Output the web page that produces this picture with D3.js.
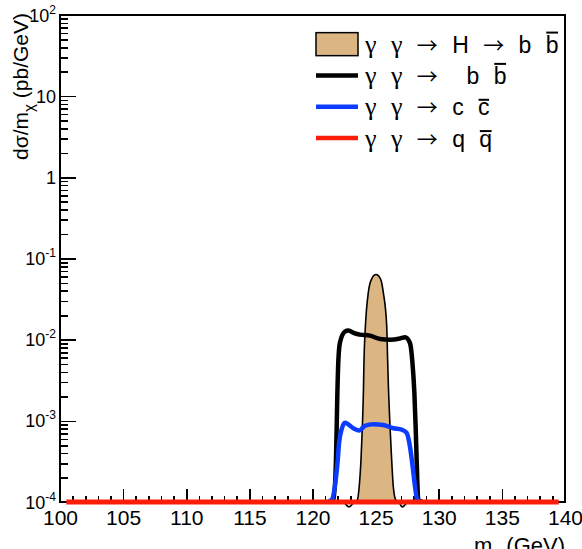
<!DOCTYPE html>
<head>
	<meta charset="utf-8">
	<style>
		body { margin: 0; background: #fff; }
		svg { font-family: "Liberation Sans", Arial, sans-serif; }
		.axis path { display: none; }
		.axis line { stroke: #000; stroke-width: 1.6px; shape-rendering: crispEdges; }
		.frame { fill: none; stroke: #000; stroke-width: 2px; shape-rendering: crispEdges; }
	</style>
	<title>gamma gamma -> H -> b bbar</title>
	<script src="https://d3js.org/d3.v7.min.js"></script>
</head>

<body>
	<div id="chart"></div>
	<script>
		// ---- data ----
		var higgsX = [122.5, 122.9, 123.3, 123.55, 123.7, 123.84, 123.95, 124.03, 124.08, 124.19, 124.42, 124.66, 125.03,
			125.41, 125.61, 125.88, 125.95, 126.03, 126.14, 126.27, 126.4, 126.6, 126.85, 127.1, 127.5];
		var higgsY = [1.0e-4, 0.87e-4, 1.0e-4, 1.06e-4, 1.55e-4, 3.3e-4, 8.5e-4, 2.2e-3, 5.66e-3, 0.0146, 0.038, 0.055, 0.0634,
			0.055, 0.038, 0.0146, 5.66e-3, 2.2e-3, 8.5e-4, 3.3e-4, 1.55e-4, 1.06e-4, 1.0e-4, 0.87e-4, 1.0e-4];

		var bbX = [121.3, 121.65, 121.86, 121.97, 122.05, 122.18, 122.57, 122.84, 123.3, 123.76, 124.55, 125.35, 126.14,
			126.93, 127.33, 127.72, 127.9, 128.07, 128.17, 128.25, 128.38, 128.7];
		var bbY = [1.0e-4, 1.06e-4, 3.3e-4, 2.2e-3, 5.6e-3, 9.3e-3, 0.0126, 0.0130, 0.0120, 0.01155, 0.0112, 0.0102, 0.0100,
			0.01035, 0.0107, 0.0091, 5.6e-3, 2.2e-3, 8.5e-4, 3.3e-4, 1.06e-4, 1.0e-4];

		var ccX = [121.2, 121.52, 121.86, 122.0, 122.1, 122.3, 122.57, 123.23, 123.71, 124.16, 124.82, 125.61, 126.4,
			127.06, 127.46, 127.72, 127.93, 128.12, 128.3, 128.6];
		var ccY = [1.0e-4, 1.06e-4, 2.0e-4, 3.3e-4, 5.3e-4, 7.8e-4, 9.5e-4, 8.1e-4, 7.6e-4, 8.7e-4, 9.1e-4, 8.9e-4, 8.1e-4,
			7.8e-4, 7.1e-4, 4.8e-4, 2.75e-4, 1.55e-4, 1.06e-4, 1.0e-4];

		var qqX = [100.5, 139.5];
		var qqY = [1.0e-4, 1.0e-4];

		var xTicks = [100, 105, 110, 115, 120, 125, 130, 135, 140];
		var yTicks = [1e-4, 1e-3, 1e-2, 1e-1, 1, 10, 100];
		var yTickBase = ["10", "10", "10", "10", "1", "10", "10"];
		var yTickExp = ["-4", "-3", "-2", "-1", "", "", "2"];

		var legendLabels = ["γ γ → H → b b", "γ γ →  b b", "γ γ → c c", "γ γ → q q"];
		var legendColors = ["#dbb682", "#000", "#0b3cff", "#fa1e0a"];

		// ---- layout ----
		var W = 582, H = 549;
		var margin = { top: 15, right: 17, bottom: 47, left: 60 };

		var svg = d3.select("#chart").append("svg")
			.attr("width", W)
			.attr("height", H);

		var x = d3.scaleLinear().domain([100, 140]).range([margin.left, W - margin.right]);
		var y = d3.scaleLog().domain([1e-4, 1e2]).range([H - margin.bottom, margin.top]);
		var y0 = y(1e-4);

		// frame first, curves go on top of it
		svg.append("rect")
			.attr("class", "frame")
			.attr("x", margin.left)
			.attr("y", margin.top)
			.attr("width", W - margin.right - margin.left)
			.attr("height", H - margin.bottom - margin.top);

		// minor ticks
		var xMinor = d3.range(100, 141, 1).filter(function (d) { return d % 5 !== 0; });
		var yMinor = [];
		yTicks.slice(0, -1).forEach(function (t) {
			for (var k = 2; k <= 9; k++) yMinor.push(t * k);
		});

		svg.append("g")
			.attr("class", "axis")
			.attr("transform", "translate(0," + y0 + ")")
			.call(d3.axisBottom(x).tickValues(xMinor).tickSize(-6.5).tickFormat(""));
		svg.append("g")
			.attr("class", "axis")
			.attr("transform", "translate(0," + y0 + ")")
			.call(d3.axisBottom(x).tickValues(xTicks).tickSize(-13).tickPadding(8).tickFormat(d3.format("d")))
			.selectAll("text")
			.style("font-size", "21px")
			.style("font-family", "Liberation Sans, Arial, sans-serif")
			.attr("fill", "#000");

		svg.append("g")
			.attr("class", "axis")
			.attr("transform", "translate(" + margin.left + ",0)")
			.call(d3.axisLeft(y).tickValues(yMinor).tickSize(-8).tickFormat(""));
		svg.append("g")
			.attr("class", "axis")
			.attr("transform", "translate(" + margin.left + ",0)")
			.call(d3.axisLeft(y).tickValues(yTicks).tickSize(-16).tickFormat(""));

		// y tick labels with exponents
		var yl = svg.append("g").selectAll("text")
			.data(yTicks)
			.enter().append("text")
			.attr("x", margin.left - 4)
			.attr("y", function (d) { return y(d) + 6.5; })
			.attr("text-anchor", "end")
			.style("font-size", "18px");
		yl.append("tspan").text(function (d, i) { return yTickBase[i]; });
		yl.append("tspan")
			.attr("dy", "-8")
			.style("font-size", "12px")
			.text(function (d, i) { return yTickExp[i]; });

		// ---- curves ----
		var lineGen = d3.line()
			.x(function (d) { return x(d[0]); })
			.y(function (d) { return y(d[1]); })
			.curve(d3.curveMonotoneX);

		var higgs = d3.zip(higgsX, higgsY);
		var areaGen = d3.area()
			.x(function (d) { return x(d[0]); })
			.y0(y0)
			.y1(function (d) { return y(Math.max(d[1], 1e-4)); })
			.curve(d3.curveMonotoneX);

		svg.append("path")
			.datum(higgs)
			.attr("d", areaGen)
			.attr("fill", legendColors[0]);
		svg.append("path")
			.datum(higgs)
			.attr("d", lineGen)
			.attr("fill", "none")
			.attr("stroke", "#000")
			.attr("stroke-width", 1.6);

		svg.append("path")
			.datum(d3.zip(bbX, bbY))
			.attr("d", lineGen)
			.attr("fill", "none")
			.attr("stroke", legendColors[1])
			.attr("stroke-width", 4.5);

		svg.append("path")
			.datum(d3.zip(ccX, ccY))
			.attr("d", lineGen)
			.attr("fill", "none")
			.attr("stroke", legendColors[2])
			.attr("stroke-width", 4.5);

		svg.append("path")
			.datum(d3.zip(qqX, qqY))
			.attr("d", lineGen)
			.attr("fill", "none")
			.attr("stroke", legendColors[3])
			.attr("stroke-width", 5);

		// ---- legend ----
		// gammas and arrows get their own fonts, like ROOT's Symbol glyphs
		function richText(t, str) {
			str.split(/(γ|→)/).forEach(function (part) {
				if (!part) return;
				var ts = t.append("tspan").text(part);
				if (part === "γ") ts.style("font-family", "Liberation Serif").style("font-size", "26px");
				if (part === "→") ts.style("font-family", "Noto Sans CJK SC").style("font-size", "21px");
			});
		}

		var legX = 316, legTop = 28.5, rowH = 31.3, fs = 23;
		var leg = svg.append("g");
		legendLabels.forEach(function (lab, i) {
			var cy = legTop + rowH * (i + 0.5);
			if (i === 0) {
				leg.append("rect")
					.attr("x", legX).attr("y", cy - 11.5)
					.attr("width", 42).attr("height", 23)
					.attr("fill", legendColors[0]).attr("stroke", "#000").attr("stroke-width", 1.5);
			} else {
				leg.append("line")
					.attr("x1", legX).attr("x2", legX + 42)
					.attr("y1", cy).attr("y2", cy)
					.attr("stroke", legendColors[i])
					.attr("stroke-width", 4.5);
			}
			var t = leg.append("text")
				.attr("x", legX + 49)
				.attr("y", cy + 8.5)
				.style("font-size", fs + "px")
				.style("white-space", "pre")
				.style("word-spacing", "8px");
			richText(t, lab);
			// bar over the last letter
			var n = lab.length - 1;
			var ext = t.node().getExtentOfChar(n);
			var tall = /[bdfhklt]/.test(lab[n]);
			var by = cy + 8.5 - (tall ? 0.72 : 0.52) * fs - 3.5;
			leg.append("line")
				.attr("x1", ext.x + 0.5).attr("x2", ext.x + ext.width - 0.5)
				.attr("y1", by).attr("y2", by)
				.attr("stroke", "#000").attr("stroke-width", 2);
		});

		// ---- axis titles ----
		var yt = svg.append("text")
			.attr("transform", "translate(28,13) rotate(-90)")
			.attr("text-anchor", "end")
			.style("font-size", "21px");
		yt.append("tspan").text("dσ/m");
		yt.append("tspan").attr("dy", 6).style("font-size", "15px").text("χ");
		yt.append("tspan").attr("dy", -6).text(" (pb/GeV)");

		var xt = svg.append("text")
			.attr("x", W - margin.right)
			.attr("y", 553)
			.attr("text-anchor", "end")
			.style("font-size", "22px");
		xt.append("tspan").text("m");
		xt.append("tspan").attr("dy", 6).style("font-size", "15px").text("χ");
		xt.append("tspan").attr("dy", -6).text(" (GeV)");
	</script>
</body>
